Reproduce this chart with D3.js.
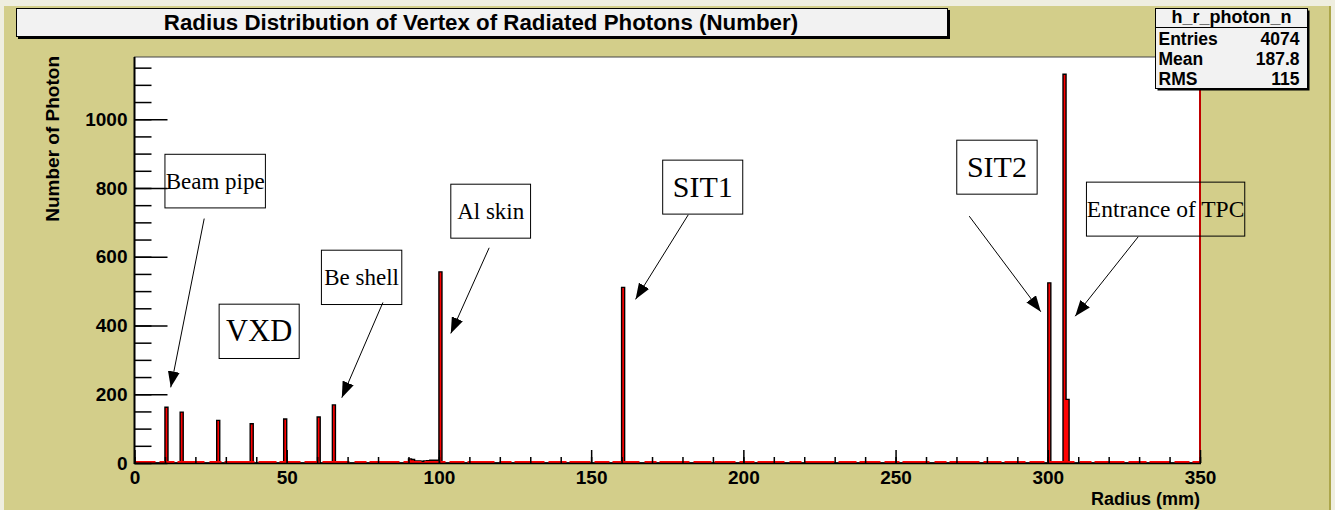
<!DOCTYPE html>
<html>
<head>
<meta charset="utf-8">
<script src="https://cdn.jsdelivr.net/npm/d3@7"></script>
<style>
  body { margin: 0; background: #efeee0; }
  svg { display: block; }
</style>
</head>
<body>
<div id="chart"></div>
<script>
// histogram h_r_photon_n, 1 mm bins from 0 to 350
var nBins = 350;
var peakBins = [10, 15, 27, 38, 49, 60, 65, 100, 160, 300, 305, 306];
var peakCounts = [162, 148, 124, 114, 128, 134, 169, 556, 511, 524, 1131, 185];
var shoulderBins = [90, 91, 92, 93, 94, 95, 96, 97, 98, 99];
var shoulderCounts = [12, 10, 6, 6, 5, 6, 7, 8, 8, 8];

var yMajorTicks = [0, 200, 400, 600, 800, 1000];
var xMajorTicks = [0, 50, 100, 150, 200, 250, 300, 350];

var statsLabels = ['Entries', 'Mean', 'RMS'];
var statsValues = ['4074', '187.8', '115'];

// annotation boxes and arrows, in data coordinates (radius, count)
var notes = [
    { text: 'Beam pipe', size: 23, x0: 10.0, x1: 43.0, y0: 742, y1: 898, ax: 22.9, ay: 711, tx: 11.9, ty: 220 },
    { text: 'VXD', size: 30.5, x0: 27.8, x1: 54.1, y0: 304, y1: 462 },
    { text: 'Be shell', size: 23, x0: 61.4, x1: 87.8, y0: 461, y1: 619, ax: 81.6, ay: 467, tx: 68.1, ty: 190 },
    { text: 'Al skin', size: 23, x0: 103.9, x1: 130.1, y0: 654, y1: 811, ax: 116.5, ay: 626, tx: 103.9, ty: 377 },
    { text: 'SIT1', size: 30, x0: 173.5, x1: 199.8, y0: 724, y1: 881, ax: 181.9, ay: 722, tx: 164.6, ty: 476 },
    { text: 'SIT2', size: 30, x0: 270.1, x1: 296.5, y0: 782, y1: 939, ax: 274.2, ay: 718, tx: 297.7, ty: 440 },
    { text: 'Entrance of TPC', size: 23.5, x0: 312.7, x1: 364.7, y0: 660, y1: 817, ax: 329.7, ay: 658, tx: 309.0, ty: 427 }
];

var width = 1335, height = 510;
var frame = { left: 134.5, right: 1200, top: 57, bottom: 463 };
var olive = '#d3ce8a';
var sans = "'Liberation Sans', Arial, sans-serif";
var serif = "'Liberation Serif', 'Times New Roman', serif";

var counts = new Array(nBins).fill(0);
peakBins.forEach(function (b, i) { counts[b] = peakCounts[i]; });
shoulderBins.forEach(function (b, i) { counts[b] = shoulderCounts[i]; });

var x = d3.scaleLinear().domain([0, 350]).range([frame.left, frame.right]);
var y = d3.scaleLinear().domain([0, 1181]).range([frame.bottom, frame.top]);

var svg = d3.select('#chart').append('svg')
    .attr('width', width)
    .attr('height', height);

// canvas
svg.append('rect').attr('x', 4).attr('y', 6).attr('width', 1326).attr('height', 504).attr('fill', olive);
svg.append('rect').attr('x', 1329).attr('y', 6).attr('width', 2).attr('height', 504).attr('fill', '#aca64a');

var defs = svg.append('defs');
defs.append('clipPath').attr('id', 'plotclip')
    .append('rect')
    .attr('x', frame.left).attr('y', frame.top)
    .attr('width', frame.right - frame.left).attr('height', frame.bottom - frame.top);
defs.append('marker')
    .attr('id', 'head')
    .attr('markerUnits', 'userSpaceOnUse')
    .attr('markerWidth', 17).attr('markerHeight', 12)
    .attr('refX', 16).attr('refY', 6)
    .attr('orient', 'auto')
    .append('path')
    .attr('d', 'M0,0 L16,6 L0,12 Z')
    .attr('fill', '#000');

// plot frame
svg.append('rect')
    .attr('x', frame.left).attr('y', frame.top)
    .attr('width', frame.right - frame.left).attr('height', frame.bottom - frame.top)
    .attr('fill', '#fff')
    .attr('stroke', '#444')
    .attr('stroke-width', 1);

// histogram
var pts = counts.map(function (c, i) { return [i, c]; });
pts.push([nBins, counts[nBins - 1]]);

var plot = svg.append('g').attr('clip-path', 'url(#plotclip)');

plot.append('path')
    .datum(pts)
    .attr('fill', '#ff0000')
    .attr('d', d3.area()
        .x(function (d) { return x(d[0]); })
        .y0(y(0))
        .y1(function (d) { return y(d[1]); })
        .curve(d3.curveStepAfter));

plot.append('path')
    .datum(pts)
    .attr('fill', 'none')
    .attr('stroke', '#000')
    .attr('stroke-width', 1.4)
    .attr('d', d3.line()
        .x(function (d) { return x(d[0]); })
        .y(function (d) { return y(d[1]); })
        .curve(d3.curveStepAfter));

// red zero line with some dark gaps, like the ROOT rendering
svg.append('line')
    .attr('x1', x(0)).attr('x2', x(350))
    .attr('y1', y(0) - 1).attr('y2', y(0) - 1)
    .attr('stroke', '#ff0000')
    .attr('stroke-width', 2)
    .attr('stroke-dasharray', '21 4 15 3 27 5 12 3 30 4 18 3');

// right edge of the histogram
svg.append('line')
    .attr('x1', x(350)).attr('x2', x(350))
    .attr('y1', y(0)).attr('y2', y(1181))
    .attr('stroke', '#c00000')
    .attr('stroke-width', 2);

// axes
var yMinor = d3.axisLeft(y).tickValues(d3.range(0, 1181, 50)).tickSizeInner(-17).tickSizeOuter(0).tickFormat('');
var yMajor = d3.axisLeft(y).tickValues(yMajorTicks).tickSizeInner(-33).tickSizeOuter(0).tickPadding(7).tickFormat(d3.format('d'));
var xMinor = d3.axisBottom(x).tickValues(d3.range(0, 351, 10)).tickSizeInner(-6).tickSizeOuter(0).tickFormat('');
var xMajor = d3.axisBottom(x).tickValues(xMajorTicks).tickSizeInner(-13).tickSizeOuter(0).tickPadding(8).tickFormat(d3.format('d'));

function styleAxis(g) {
    g.select('.domain').remove();
    g.selectAll('.tick line').attr('stroke', '#000').attr('stroke-width', 1.5);
    g.selectAll('.tick text')
        .attr('fill', '#000')
        .style('font-family', sans)
        .style('font-weight', 'bold')
        .style('font-size', '19px');
}

svg.append('g').attr('transform', 'translate(' + frame.left + ',0)').call(yMinor).call(styleAxis);
svg.append('g').attr('transform', 'translate(' + frame.left + ',0)').call(yMajor).call(styleAxis);
svg.append('g').attr('transform', 'translate(0,' + frame.bottom + ')').call(xMinor).call(styleAxis);
svg.append('g').attr('transform', 'translate(0,' + frame.bottom + ')').call(xMajor).call(styleAxis);

svg.append('line')
    .attr('x1', frame.left).attr('x2', frame.left)
    .attr('y1', frame.top).attr('y2', frame.bottom + 1)
    .attr('stroke', '#000').attr('stroke-width', 2);
svg.append('line')
    .attr('x1', frame.left).attr('x2', frame.right + 1)
    .attr('y1', frame.bottom + 0.5).attr('y2', frame.bottom + 0.5)
    .attr('stroke', '#000').attr('stroke-width', 1.5);

// axis titles
svg.append('text')
    .attr('x', x(350)).attr('y', 505)
    .attr('text-anchor', 'end')
    .style('font-family', sans).style('font-weight', 'bold').style('font-size', '18px')
    .text('Radius (mm)');

svg.append('text')
    .attr('transform', 'translate(59,' + (frame.top - 1) + ') rotate(-90)')
    .attr('text-anchor', 'end')
    .style('font-family', sans).style('font-weight', 'bold').style('font-size', '19px')
    .text('Number of Photon');

// annotations
var note = svg.append('g').selectAll('g').data(notes).enter().append('g');

note.append('rect')
    .attr('x', function (d) { return x(d.x0); })
    .attr('y', function (d) { return y(d.y1); })
    .attr('width', function (d) { return x(d.x1) - x(d.x0); })
    .attr('height', function (d) { return y(d.y0) - y(d.y1); })
    .attr('fill', 'none')
    .attr('stroke', '#000')
    .attr('stroke-width', 1);

note.append('text')
    .attr('x', function (d) { return (x(d.x0) + x(d.x1)) / 2; })
    .attr('y', function (d) { return (y(d.y0) + y(d.y1)) / 2; })
    .attr('dy', '0.33em')
    .attr('text-anchor', 'middle')
    .style('font-family', serif)
    .style('font-size', function (d) { return d.size + 'px'; })
    .text(function (d) { return d.text; });

note.filter(function (d) { return d.ax !== undefined; })
    .append('line')
    .attr('x1', function (d) { return x(d.ax); })
    .attr('y1', function (d) { return y(d.ay); })
    .attr('x2', function (d) { return x(d.tx); })
    .attr('y2', function (d) { return y(d.ty); })
    .attr('stroke', '#000')
    .attr('stroke-width', 1)
    .attr('marker-end', 'url(#head)');

// title pave
svg.append('rect').attr('x', 18).attr('y', 10).attr('width', 932).attr('height', 29).attr('fill', '#000');
svg.append('rect').attr('x', 16.5).attr('y', 8.5).attr('width', 931).attr('height', 28)
    .attr('fill', '#f2f2f2').attr('stroke', '#000').attr('stroke-width', 1);
svg.append('text')
    .attr('x', 481).attr('y', 30)
    .attr('text-anchor', 'middle')
    .style('font-family', sans).style('font-weight', 'bold').style('font-size', '22.3px')
    .text('Radius Distribution of Vertex of Radiated Photons (Number)');

// stats box
var sb = { x: 1155.5, y: 8.5, w: 152, h: 80 };
svg.append('rect').attr('x', sb.x + 2).attr('y', sb.y + 2).attr('width', sb.w).attr('height', sb.h).attr('fill', '#000');
svg.append('rect').attr('x', sb.x).attr('y', sb.y).attr('width', sb.w).attr('height', sb.h)
    .attr('fill', '#f2f2f2').attr('stroke', '#000').attr('stroke-width', 1);
svg.append('line')
    .attr('x1', sb.x).attr('x2', sb.x + sb.w)
    .attr('y1', 27.5).attr('y2', 27.5)
    .attr('stroke', '#000').attr('stroke-width', 1);
svg.append('text')
    .attr('x', sb.x + sb.w / 2).attr('y', 23)
    .attr('text-anchor', 'middle')
    .style('font-family', sans).style('font-weight', 'bold').style('font-size', '18px')
    .text('h_r_photon_n');

var rows = svg.append('g').selectAll('g').data(statsLabels).enter().append('g');
rows.append('text')
    .attr('x', sb.x + 3)
    .attr('y', function (d, i) { return 45 + i * 20; })
    .style('font-family', sans).style('font-weight', 'bold').style('font-size', '17.5px')
    .text(function (d) { return d; });
rows.append('text')
    .attr('x', sb.x + sb.w - 8)
    .attr('y', function (d, i) { return 45 + i * 20; })
    .attr('text-anchor', 'end')
    .style('font-family', sans).style('font-weight', 'bold').style('font-size', '17.5px')
    .text(function (d, i) { return statsValues[i]; });
</script>
</body>
</html>
